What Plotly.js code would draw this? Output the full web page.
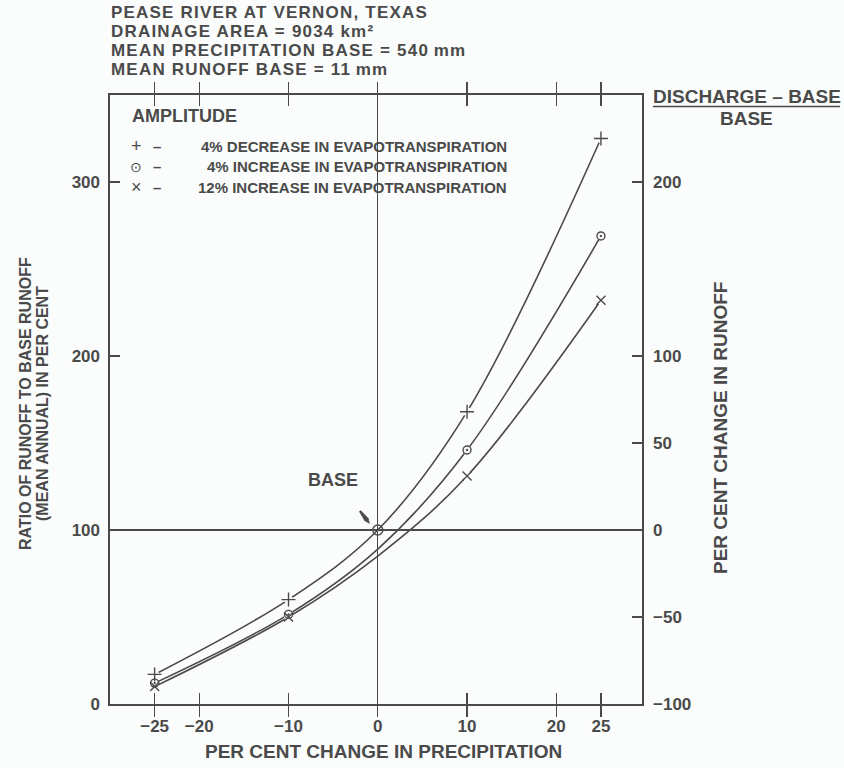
<!DOCTYPE html>
<html>
<head>
<meta charset="utf-8">
<script src="https://cdn.plot.ly/plotly-3.0.1.min.js"></script>
<style>html,body{margin:0;padding:0;background:#fbfdfd;}#chart{width:844px;height:768px;}</style>
</head>
<body>
<div id="chart"></div>
<script>
// ---- data ----
const precipChange = [-25, -10, 0, 10, 25];          // per cent change in precipitation
const decreaseET4  = [17, 60, 100, 168, 325];         // + : 4% decrease in evapotranspiration
const increaseET4  = [12, 51.5, 89, 146, 269];        // o : 4% increase in evapotranspiration
const increaseET12 = [10, 50, 85, 131, 232];          // x : 12% increase in evapotranspiration
const baseX = [0];
const baseY = [100];
const xTicks  = [-25, -20, -10, 0, 10, 20, 25];
const yTicks  = [0, 100, 200, 300];
const y2Ticks = [-100, -50, 0, 50, 100, 200];
const titleLines = [
  'PEASE RIVER AT VERNON, TEXAS',
  'DRAINAGE AREA = 9034 km\u00b2',
  'MEAN PRECIPITATION BASE = 540\u2009mm',
  'MEAN RUNOFF BASE = 11\u2009mm'
];
const legendSymbols = ['+', '\u2299', '\u00d7'];
const legendLabels = [
  '4% DECREASE IN EVAPOTRANSPIRATION',
  '4% INCREASE IN EVAPOTRANSPIRATION',
  '12% INCREASE IN EVAPOTRANSPIRATION'
];

// ---- styling ----
const INK = '#4a4a4a';
const BG = '#fbfdfd';
const FONT = 'Liberation Sans, Arial, sans-serif';

function markerPts(ys) {
  const mx = [], my = [];
  precipChange.forEach((x, i) => { if (x !== 0) { mx.push(x); my.push(ys[i]); } });
  return {x: mx, y: my};
}

const series = [
  {y: decreaseET4,  symbol: 'cross-thin-open', size: 10},
  {y: increaseET4,  symbol: 'circle-open-dot', size: 8},
  {y: increaseET12, symbol: 'x-thin-open', size: 9}
];

const traces = [];
series.forEach(s => {
  traces.push({x: precipChange, y: s.y, mode: 'lines', line: {shape: 'spline', smoothing: 1, color: INK, width: 1.6}, hoverinfo: 'skip', showlegend: false});
});
series.forEach(s => {
  const p = markerPts(s.y);
  traces.push({x: p.x, y: p.y, mode: 'markers', marker: {symbol: 'circle', size: 9, color: BG, line: {width: 0}}, hoverinfo: 'skip', showlegend: false});
});
series.forEach(s => {
  const p = markerPts(s.y);
  traces.push({x: p.x, y: p.y, mode: 'markers', marker: {symbol: s.symbol, size: s.size, color: INK, line: {color: INK, width: 1.4}}, showlegend: false});
});
traces.push({x: baseX, y: baseY, mode: 'markers', marker: {symbol: 'circle-open', size: 10, color: INK, line: {color: INK, width: 1.4}}, showlegend: false});
// anchor trace for the right-hand axis (invisible)
traces.push({x: baseX, y: [0], yaxis: 'y2', mode: 'markers', marker: {opacity: 0}, hoverinfo: 'skip', showlegend: false});

// plot area: x 110..642, y 95..704
const L = 110, R = 642, T = 95, B = 704;
const px = x => (x - L) / (R - L);
const py = y => (B - y) / (B - T);

const ann = [];
const titleYs = [12.5, 31.5, 50.5, 69.5];
titleLines.forEach((t, i) => ann.push({xref: 'paper', yref: 'paper', x: px(109), y: py(titleYs[i]), xanchor: 'left', yanchor: 'middle', text: t, showarrow: false, font: {family: FONT, size: 17, color: INK, weight: 'bold'}}));

ann.push({xref: 'paper', yref: 'paper', x: px(130), y: py(116), xanchor: 'left', yanchor: 'middle', text: 'AMPLITUDE', showarrow: false, font: {family: FONT, size: 18, color: INK, weight: 'bold'}});
const rowYs = [146, 166.5, 187];
legendLabels.forEach((t, i) => {
  ann.push({xref: 'paper', yref: 'paper', x: px(136), y: py(rowYs[i]), xanchor: 'center', yanchor: 'middle', text: legendSymbols[i], showarrow: false, font: {family: FONT, size: i === 1 ? 14 : 18, color: INK}});
  ann.push({xref: 'paper', yref: 'paper', x: px(157), y: py(rowYs[i]), xanchor: 'center', yanchor: 'middle', text: '\u2013', showarrow: false, font: {family: FONT, size: 15, color: INK, weight: 'bold'}});
  ann.push({xref: 'paper', yref: 'paper', x: px(509), y: py(rowYs[i]), xanchor: 'right', yanchor: 'middle', text: t, showarrow: false, font: {family: FONT, size: 15, color: INK, weight: 'bold'}});
});

// right-hand fraction label
ann.push({xref: 'paper', yref: 'paper', x: px(746.5), y: py(96), xanchor: 'center', yanchor: 'middle', text: 'DISCHARGE \u2013 BASE', showarrow: false, font: {family: FONT, size: 19, color: INK, weight: 'bold'}});
ann.push({xref: 'paper', yref: 'paper', x: px(746.5), y: py(118.5), xanchor: 'center', yanchor: 'middle', text: 'BASE', showarrow: false, font: {family: FONT, size: 19, color: INK, weight: 'bold'}});

// axis titles
ann.push({xref: 'paper', yref: 'paper', x: px(383), y: py(751), xanchor: 'center', yanchor: 'middle', text: 'PER CENT CHANGE IN PRECIPITATION', showarrow: false, font: {family: FONT, size: 19, color: INK, weight: 'bold'}});
ann.push({xref: 'paper', yref: 'paper', x: px(720), y: py(428), xanchor: 'center', yanchor: 'middle', textangle: -90, text: 'PER CENT CHANGE IN RUNOFF', showarrow: false, font: {family: FONT, size: 19, color: INK, weight: 'bold'}});
ann.push({xref: 'paper', yref: 'paper', x: px(26), y: py(404), xanchor: 'center', yanchor: 'middle', textangle: -90, text: 'RATIO OF RUNOFF TO BASE RUNOFF', showarrow: false, font: {family: FONT, size: 16, color: INK, weight: 'bold'}});
ann.push({xref: 'paper', yref: 'paper', x: px(43), y: py(404), xanchor: 'center', yanchor: 'middle', textangle: -90, text: '(MEAN ANNUAL) IN PER CENT', showarrow: false, font: {family: FONT, size: 16, color: INK, weight: 'bold'}});

// BASE label
ann.push({xref: 'paper', yref: 'paper', x: px(333), y: py(480), xanchor: 'center', yanchor: 'middle', text: 'BASE', showarrow: false, font: {family: FONT, size: 18, color: INK, weight: 'bold'}});

// small dart-shaped pointer towards the base point (drawn in pixel space -> paper coords)
function dartPath(x0, y0, x1, y1, w) {
  const dx = x1 - x0, dy = y1 - y0, len = Math.hypot(dx, dy);
  const ux = dx / len, uy = dy / len, nx = -uy, ny = ux;
  const mx = x1 - ux * 5, my = y1 - uy * 5;
  const pts = [
    [x0 + nx * w * 0.4, y0 + ny * w * 0.4],
    [mx + nx * w, my + ny * w],
    [x1, y1],
    [mx - nx * w, my - ny * w],
    [x0 - nx * w * 0.4, y0 - ny * w * 0.4]
  ];
  return 'M' + pts.map(p => px(p[0]).toFixed(5) + ',' + py(p[1]).toFixed(5)).join(' L') + ' Z';
}

const layout = {
  width: 844, height: 768,
  margin: {l: L, r: 844 - R, t: T, b: 768 - B, pad: 0},
  paper_bgcolor: BG, plot_bgcolor: BG,
  showlegend: false,
  font: {family: FONT, color: INK},
  xaxis: {
    range: [-30, 29.6], tickvals: xTicks, ticktext: xTicks.map(v => v < 0 ? '\u2212' + Math.abs(v) : String(v)),
    ticks: 'inside', ticklen: 11, tickwidth: 1.4, tickcolor: INK,
    showline: true, linecolor: INK, linewidth: 1.6, mirror: 'allticks',
    showgrid: false, zeroline: true, zerolinecolor: INK, zerolinewidth: 1.4,
    ticklabelstandoff: 6,
    tickfont: {family: FONT, size: 17, color: INK, weight: 'bold'}
  },
  yaxis: {
    range: [0, 350], tickvals: yTicks,
    ticks: 'inside', ticklen: 10, tickwidth: 1.4, tickcolor: INK,
    showline: true, linecolor: INK, linewidth: 1.6,
    showgrid: false, zeroline: false,
    ticklabelstandoff: 5,
    tickfont: {family: FONT, size: 17, color: INK, weight: 'bold'}
  },
  yaxis2: {
    overlaying: 'y', side: 'right',
    range: [-100, 250], tickvals: y2Ticks, ticktext: y2Ticks.map(v => v < 0 ? '\u2212' + Math.abs(v) : String(v)),
    ticks: 'inside', ticklen: 10, tickwidth: 1.4, tickcolor: INK,
    showline: true, linecolor: INK, linewidth: 1.6,
    showgrid: false, zeroline: true, zerolinecolor: INK, zerolinewidth: 1.4,
    ticklabelstandoff: 6,
    tickfont: {family: FONT, size: 17, color: INK, weight: 'bold'}
  },
  annotations: ann,
  shapes: [
    {type: 'line', xref: 'paper', yref: 'paper', x0: px(653), x1: px(840), y0: py(106.5), y1: py(106.5), line: {color: INK, width: 1.6}},
    {type: 'path', xref: 'paper', yref: 'paper', path: dartPath(360, 511, 369.5, 523.5, 2.2), fillcolor: INK, line: {color: INK, width: 0.5}}
  ]
};

Plotly.newPlot('chart', traces, layout, {staticPlot: true, displayModeBar: false}).then(gd => {
  // the heading block is set slightly wider in the reference: add a little tracking,
  // keeping each line's left edge where it was
  for (let i = 0; i < titleLines.length; i++) {
    const t = gd.querySelector('.annotation[data-index="' + i + '"] text');
    if (!t) continue;
    const before = t.getBBox().x;
    t.style.letterSpacing = '1.2px';
    const after = t.getBBox().x;
    t.setAttribute('transform', 'translate(' + (before - after).toFixed(2) + ',0)');
  }
});
</script>
</body>
</html>
